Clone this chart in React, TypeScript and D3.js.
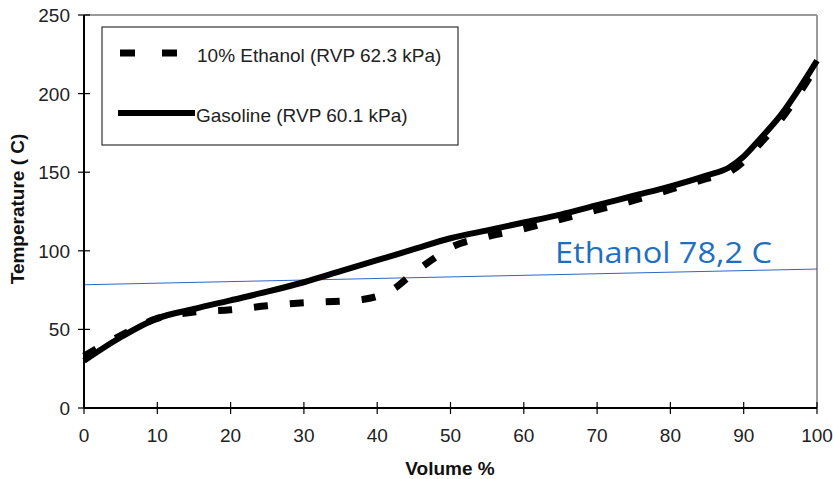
import React from "react";
import * as d3 from "d3";

// Gasoline distillation curve (solid)
const gasVolume = [0, 5, 10, 15, 20, 25, 30, 35, 40, 45, 50, 55, 60, 65, 70, 75, 80, 85, 88, 90, 92, 95, 100];
const gasTemp = [30, 45, 57, 63, 68.5, 74, 80, 87, 94, 101, 108, 113, 118, 123, 129, 135, 141, 148, 153, 160, 170, 186, 221];

// 10% ethanol blend (dashed)
const ethVolume = [0, 5, 10, 15, 20, 25, 30, 35, 38, 40, 42, 45, 48, 50, 55, 60, 65, 70, 75, 80, 85, 88, 90, 92, 95, 100];
const ethTemp = [33, 46, 57, 61, 62.5, 65, 67, 68, 69, 71, 75, 86, 96, 102, 109, 114, 120, 126, 132, 139, 146, 150, 157, 167, 183, 218];

// reference line for ethanol boiling point
const refVolume = [0, 100];
const refTemp = [78.4, 88.4];

const xTicks = [0, 10, 20, 30, 40, 50, 60, 70, 80, 90, 100];
const yTicks = [0, 50, 100, 150, 200, 250];

const seriesLabels = ["10% Ethanol (RVP 62.3 kPa)", "Gasoline (RVP 60.1 kPa)"];

const W = 833;
const H = 479;

export default function App() {
  const x = d3.scaleLinear().domain([0, 100]).range([84, 817]);
  const y = d3.scaleLinear().domain([0, 250]).range([408, 15]);

  const line = d3.line<number>().curve(d3.curveMonotoneX);

  const path = (xs: number[], ys: number[]) =>
    line.x((_, i) => x(xs[i])).y((_, i) => y(ys[i]))(xs) || "";

  const font = "'Liberation Sans', Arial, sans-serif";

  return (
    <svg width={W} height={H} style={{ position: "absolute", left: 0, top: 0 }}>
      <rect width={W} height={H} fill="#fff" />

      {/* plot frame (top & right) */}
      <line x1={x(0)} x2={x(100)} y1={y(250)} y2={y(250)} stroke="#9a9a9a" strokeWidth={2} />
      <line x1={x(100)} x2={x(100)} y1={y(250)} y2={y(0)} stroke="#9a9a9a" strokeWidth={2} />

      {/* ethanol boiling reference */}
      <path d={path(refVolume, refTemp)} fill="none" stroke="#2f66c8" strokeWidth={1} />
      <text x={555} y={263} fill="#1f6fc0" fontFamily="'Open Sans', sans-serif" fontSize={30} textLength={217} lengthAdjust="spacingAndGlyphs">
        Ethanol 78,2 C
      </text>

      {/* curves */}
      <path d={path(ethVolume, ethTemp)} fill="none" stroke="#000" strokeWidth={7} strokeDasharray="14 22" />
      <path d={path(gasVolume, gasTemp)} fill="none" stroke="#000" strokeWidth={6} strokeLinejoin="round" />

      {/* axes */}
      <line x1={x(0)} x2={x(0)} y1={y(250)} y2={y(0)} stroke="#000" strokeWidth={2} />
      <line x1={x(0)} x2={x(100)} y1={y(0)} y2={y(0)} stroke="#000" strokeWidth={2} />
      {yTicks.map((t) => (
        <g key={"y" + t}>
          <line x1={x(0) - 6} x2={x(0) + 6} y1={y(t)} y2={y(t)} stroke="#000" strokeWidth={1.2} />
          <text x={70} y={y(t) + 7} textAnchor="end" fontFamily={font} fontSize={19} fill="#222">
            {t}
          </text>
        </g>
      ))}
      {xTicks.map((t) => (
        <g key={"x" + t}>
          <line x1={x(t)} x2={x(t)} y1={y(0) - 6} y2={y(0) + 6} stroke="#000" strokeWidth={1.2} />
          <text x={x(t)} y={442} textAnchor="middle" fontFamily={font} fontSize={19} fill="#222">
            {t}
          </text>
        </g>
      ))}
      <text x={450} y={475} textAnchor="middle" fontFamily={font} fontSize={19} fontWeight="bold" fill="#111">
        Volume %
      </text>
      <text
        transform={`translate(24,209) rotate(-90)`}
        textAnchor="middle"
        fontFamily={font}
        fontSize={19}
        fontWeight="bold"
        fill="#111"
      >
        Temperature ( C)
      </text>

      {/* legend */}
      <rect x={102} y={27} width={356} height={118} fill="#fff" stroke="#333" strokeWidth={1.2} />
      <line x1={120} x2={177} y1={53} y2={53} stroke="#000" strokeWidth={7} strokeDasharray="15 27" />
      <text x={197} y={62} fontFamily={font} fontSize={19} fill="#222">
        {seriesLabels[0]}
      </text>
      <line x1={118} x2={195} y1={113} y2={113} stroke="#000" strokeWidth={6} />
      <text x={196} y={122} fontFamily={font} fontSize={19} fill="#222">
        {seriesLabels[1]}
      </text>
    </svg>
  );
}
